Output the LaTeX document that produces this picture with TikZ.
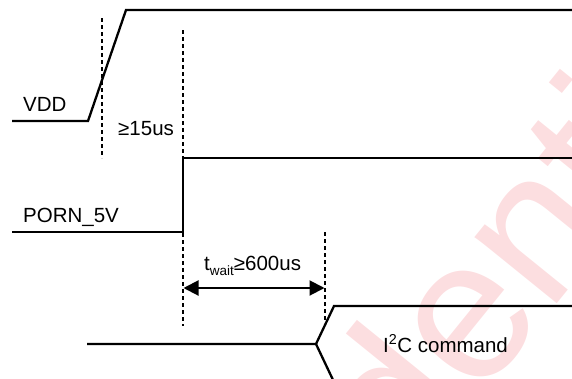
\documentclass[tikz,border=0pt]{standalone}
\usepackage{fontspec}
\setmainfont{Liberation Sans}
\usetikzlibrary{arrows.meta}
\definecolor{wm}{RGB}{252,222,224}
\tikzset{
  sig/.style={line width=2.3pt, line join=miter},
  guide/.style={line width=2pt, dash pattern=on 4pt off 3pt},
  lbl/.style={inner sep=0pt, anchor=base west, font=\fontsize{20.5}{24}\selectfont},
  dim/.style={line width=2pt, {Triangle[length=15pt,width=15pt]}-{Triangle[length=15pt,width=15pt]}, shorten <=0.5pt, shorten >=0.5pt}
}
\begin{document}
\begin{tikzpicture}[x=1pt,y=-1pt]
\useasboundingbox (0,0) rectangle (572,378);
% watermark
\begin{scope}
\clip (0,0) rectangle (572,378);
\node[inner sep=0pt, anchor=base west, rotate=51, text=wm, font=\fontsize{200}{200}\selectfont] (wmark) at (115,850) {Confidential};
\end{scope}
% VDD
\coordinate (v0) at (12,121);
\coordinate (v1) at (88,121);
\coordinate (v2) at (126,10);
\coordinate (v3) at (572,10);
\draw[sig] (v0) -- (v1) -- (v2) -- (v3);
\node[lbl] (vddl) at (23,111) {VDD};
% PORN_5V
\coordinate (p0) at (12,232);
\coordinate (p1) at (183,232);
\coordinate (p2) at (183,158);
\coordinate (p3) at (572,158);
\draw[sig] (p0) -- (p1) -- (p2) -- (p3);
\node[lbl] (pornl) at (23,222) {PORN\_5V};
% I2C bus
\coordinate (b0) at (87,344);
\coordinate (b1) at (316,344);
\coordinate (b2) at (334,306);
\coordinate (b3) at (572,306);
\coordinate (b4) at (334,382);
\coordinate (b5) at (572,382);
\draw[sig] (b0) -- (b1) -- (b2) -- (b3);
\draw[sig] (b1) -- (b4) -- (b5);
\node[lbl] (i2c) at (383,352) {I\textsuperscript{2}C command};
% guides
\coordinate (g1a) at (102,18);
\coordinate (g1b) at (102,158);
\coordinate (g2a) at (183,30);
\coordinate (g2b) at (183,326);
\coordinate (g3a) at (325,232);
\coordinate (g3b) at (325,323);
\draw[guide] (g1a) -- (g1b);
\draw[guide] (g2a) -- (g2b);
\draw[guide] (g3a) -- (g3b);
\node[lbl] (t15) at (118,135) {≥15us};
% twait
\coordinate (d1) at (183,288);
\coordinate (d2) at (325,288);
\draw[dim] (d1) -- (d2);
\node[lbl] (tw) at (204,270) {t\raisebox{-0.28em}{\fontsize{13.5}{14}\selectfont wait}≥600us};
\end{tikzpicture}
\end{document}
